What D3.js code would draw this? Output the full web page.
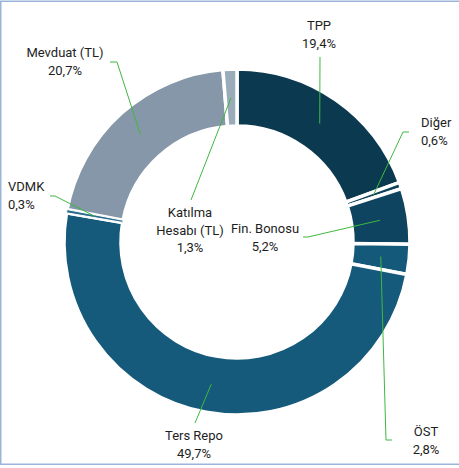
<!DOCTYPE html>
<html>
<head lang="tr">
	<meta charset="UTF-8">
	<title>Portföy Dağılımı</title>
	<script src="https://cdnjs.cloudflare.com/ajax/libs/d3/7.8.5/d3.min.js"></script>
	<style type="text/css">
		body { margin: 0; background: #fff; }
		svg text { font-family: Roboto, "Liberation Sans", sans-serif; font-size: 13px; fill: #1e1e1e; }
	</style>
</head>
<body>
	<svg id="chart" width="459" height="468"></svg>
	<script type="text/javascript">
		// data, clockwise from 12 o'clock
		var categories = ['TPP', 'Diğer', 'Fin. Bonosu', 'ÖST', 'Ters Repo', 'VDMK', 'Mevduat (TL)', 'Katılma Hesabı (TL)'];
		var shares = [19.4, 0.6, 5.2, 2.8, 49.7, 0.3, 20.7, 1.3];
		var valueLabels = ['19,4%', '0,6%', '5,2%', '2,8%', '49,7%', '0,3%', '20,7%', '1,3%'];
		var colors = ['#0b3a50', '#0d4159', '#0e4460', '#14597a', '#155a7a', '#2a6d8e', '#8597a8', '#9aabba'];

		// label placement: text lines, anchor, leader start + elbow
		var labelLayout = [
			{ lines: ['TPP'], x: 319, y: 30, anchor: 'middle', leader: [[320, 57]] },
			{ lines: ['Diğer'], x: 421, y: 127, anchor: 'start', leader: [[409, 132], [403, 132]] },
			{ lines: ['Fin. Bonosu'], x: 265, y: 233, anchor: 'middle', leader: [[303, 237], [308, 237]] },
			{ lines: ['ÖST'], x: 426, y: 436, anchor: 'middle', leader: [[392, 440], [386, 440]] },
			{ lines: ['Ters Repo'], x: 194, y: 440, anchor: 'middle', leader: [[195, 423]] },
			{ lines: ['VDMK'], x: 8, y: 191, anchor: 'start', leader: [[50, 196], [55, 196]] },
			{ lines: ['Mevduat (TL)'], x: 65, y: 57, anchor: 'middle', leader: [[110, 62], [117, 62]] },
			{ lines: ['Katılma', 'Hesabı (TL)'], x: 190, y: 217, anchor: 'middle', leader: [[191, 200]] }
		];

		var cx = 237, cy = 242;
		var svg = d3.select('#chart');

		svg.append('rect')
			.attr('x', 0.75).attr('y', 1.25)
			.attr('width', 480).attr('height', 463)
			.attr('fill', 'none')
			.attr('stroke', '#9bb5da')
			.attr('stroke-width', 1.5);

		var pie = d3.pie().sort(null).value(function (d) { return d; });
		var arc = d3.arc().innerRadius(116).outerRadius(173);
		var arcs = pie(shares);

		var g = svg.append('g').attr('transform', 'translate(' + cx + ',' + cy + ')');

		g.selectAll('path.slice').data(arcs).enter().append('path')
			.attr('class', 'slice')
			.attr('d', arc)
			.attr('fill', function (d, i) { return colors[i]; })
			.attr('stroke', '#fff')
			.attr('stroke-width', 3.5);

		// tiny slices would vanish under the white gaps: draw them again with a thin edge
		g.selectAll('path.tiny').data(arcs.filter(function (d) { return d.value < 0.5; })).enter().append('path')
			.attr('class', 'tiny')
			.attr('d', arc)
			.attr('fill', function (d) { return colors[d.index]; })
			.attr('stroke', '#fff')
			.attr('stroke-width', 1);

		// leader lines end at slice centroid
		var line = d3.line();
		arcs.forEach(function (d, i) {
			var c = arc.centroid(d);
			var pts = labelLayout[i].leader.concat([[c[0] + cx, c[1] + cy]]);
			svg.append('path')
				.attr('d', line(pts))
				.attr('fill', 'none')
				.attr('stroke', '#3fb83f')
				.attr('stroke-width', 1);
		});

		labelLayout.forEach(function (l, i) {
			var t = svg.append('text')
				.attr('x', l.x).attr('y', l.y)
				.attr('text-anchor', l.anchor);
			l.lines.concat([valueLabels[i]]).forEach(function (s, k) {
				t.append('tspan').attr('x', l.x).attr('dy', k === 0 ? 0 : 17.5).text(s);
			});
		});
	</script>
</body>
</html>
